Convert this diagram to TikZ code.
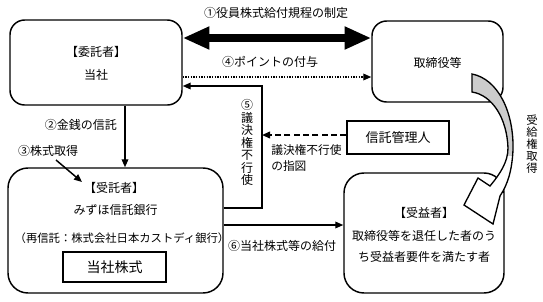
\documentclass[tikz,border=0pt]{standalone}
\usepackage{fontspec}
\setmainfont{Noto Sans CJK JP}
\usetikzlibrary{arrows.meta}
\begin{document}
\begin{tikzpicture}[x={(0.75pt,0)},y={(0,-0.75pt)},
  rbox/.style={draw,line width=1.1pt,inner sep=0pt},
  sbox/.style={draw,line width=1.1pt,inner sep=0pt},
  txt/.style={inner sep=0pt,font=\fontsize{9pt}{11pt}\selectfont},
  arr/.style={line width=1pt,-{Triangle[length=6pt,width=5pt]}},
  dotarr/.style={line width=1pt,dash pattern=on 1pt off 1pt,-{Triangle[length=6pt,width=5pt]}},
  dasharr/.style={line width=1.2pt,dash pattern=on 4.5pt off 2.5pt,-{Triangle[length=6pt,width=5pt]}},
  thickarr/.style={line width=6pt,{Triangle[length=20pt,width=16pt]}-{Triangle[length=20pt,width=16pt]}},
]
\useasboundingbox (0,0) rectangle (543,301);

% helper coordinates
\coordinate (y38) at (0,38);
\coordinate (y77) at (0,77);
\coordinate (y86) at (0,86);
\coordinate (y135) at (0,135);
\coordinate (y208) at (0,208);
\coordinate (y225) at (0,225);
\coordinate (x125) at (125,0);
\coordinate (c5) at (262,86);
\coordinate (c3s) at (56,160);
\coordinate (c3e) at (82,182);

% boxes
\node[rbox,rounded corners=11pt,minimum width=129pt,minimum height=63.75pt] (itaku) at (96,62.5) {};
\node[rbox,rounded corners=11pt,minimum width=98.25pt,minimum height=60.75pt] (tori) at (437.5,61.5) {};
\node[rbox,rounded corners=15pt,minimum width=161.25pt,minimum height=93.75pt] (jutaku) at (115.5,230.5) {};
\node[rbox,rounded corners=15pt,minimum width=120pt,minimum height=90pt] (jueki) at (424,233) {};
\node[sbox,minimum width=76.5pt,minimum height=24.75pt] (kanri) at (398,137.5) {};
\node[sbox,minimum width=77.25pt,minimum height=22.5pt] (kabu) at (114.5,267) {};

% box texts
\node[txt] (t1) at (96,52) {【委託者】};
\node[txt] (t2) at (96,75) {当社};
\node[txt] (t3) at (437.5,63) {取締役等};
\node[txt] (t4) at (114,188) {【受託者】};
\node[txt] (t5) at (115.5,210) {みずほ信託銀行};
\node[txt,font=\fontsize{8.5pt}{10pt}\selectfont] (t6) at (122,238) {（再信託：株式会社日本カストディ銀行）};
\node[txt,font=\fontsize{10.5pt}{12pt}\selectfont] (t7) at (kabu) {当社株式};
\node[txt,font=\fontsize{9.75pt}{12pt}\selectfont] (t8) at (kanri) {信託管理人};
\node[txt] (t9) at (424,213) {【受益者】};
\node[txt,align=center,font=\fontsize{9pt}{15.75pt}\selectfont] (t10) at (424,246.5) {取締役等を退任した者のう\\ち受益者要件を満たす者};

% connector labels
\node[txt] (l1) at (276,13) {①役員株式給付規程の制定};
\node[txt] (l4) at (270,62) {④ポイントの付与};
\node[txt] (l2) at (81,125) {②金銭の信託};
\node[txt] (l3) at (48,151) {③株式取得};
\node[txt,align=center,font=\fontsize{9pt}{9.4pt}\selectfont] (l5) at (247,142.5) {⑤\\議\\決\\権\\不\\行\\使};
\node[txt,align=left,anchor=west,font=\fontsize{8.8pt}{12pt}\selectfont] (l5b) at (271,158) {議決権不行使\\の指図};
\node[txt] (l6) at (282,246) {⑥当社株式等の給付};
\node[txt,align=center,font=\fontsize{8.5pt}{9pt}\selectfont] (l7) at (532,144) {受\\給\\権\\取\\得};

% connectors
\draw[thickarr] (itaku.east |- y38) -- (tori.west |- y38);
\draw[dotarr] (itaku.east |- y77) -- (tori.west |- y77);
\draw[arr] (jutaku.east |- y208) -| (c5) -- (itaku.east |- y86);
\draw[dasharr] (kanri.west |- y135) -- (c5 |- y135);
\draw[arr] (itaku.south -| x125) -- (jutaku.north -| x125);
\draw[arr,line width=1.1pt] (c3s) -- (c3e);
\draw[arr] (jutaku.east |- y225) -- (jueki.west |- y225);

% curved arrow (受給権取得)
\def\jucurve{(472,74) .. controls (498,79) and (514,112) .. (513,150)
  .. controls (512,170) and (508,184) .. (500,196)
  -- (493,224) -- (464,205) -- (478,178) -- (490,186)
  .. controls (500,174) and (508,162) .. (508,148)
  .. controls (507,118) and (492,95) .. (472,92) -- cycle}
\fill[white] \jucurve;
\begin{scope}
  \clip (450,60) rectangle (530,155);
  \fill[gray!40] \jucurve;
\end{scope}
\draw[line width=1pt,line join=miter] \jucurve;
\end{tikzpicture}
\end{document}
